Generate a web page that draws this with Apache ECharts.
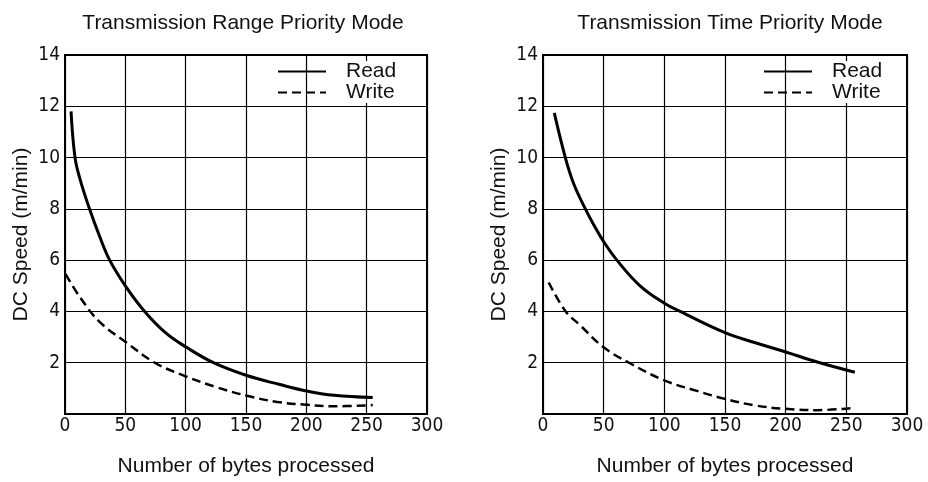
<!DOCTYPE html>
<html>
<head>
<meta charset="utf-8">
<script src="https://cdn.jsdelivr.net/npm/echarts@6/dist/echarts.min.js"></script>
<style>
  html, body { margin: 0; padding: 0; background: #fff; }
  #chart { width: 928px; height: 482px; }
</style>
</head>
<body>
<div id="chart"></div>
<script>
// values: [bytes, speed m/min]
const rangeRead = [[5, 11.8], [8.3, 10.0], [12.5, 9.15], [20.3, 8.0], [28.5, 6.95], [37, 6.0], [50, 5.0],
  [66, 4.0], [84, 3.14], [100, 2.62], [123, 2.0], [150, 1.51], [178, 1.15], [200, 0.9], [223, 0.73], [255, 0.64]];
const rangeWrite = [[0.5, 5.45], [12.5, 4.55], [28.7, 3.59], [50, 2.82], [74.4, 2.0], [100, 1.47],
  [126, 1.04], [151, 0.71], [176, 0.47], [200, 0.36], [223, 0.3], [255, 0.35]];
const timeRead = [[9.3, 11.74], [18.4, 10.0], [25.3, 8.98], [34.9, 8.0], [43.2, 7.26], [50, 6.72], [60.9, 6.0],
  [80, 5.0], [100, 4.32], [113, 4.0], [150, 3.17], [175, 2.78], [200, 2.42], [226, 2.03], [257, 1.63]];
const timeWrite = [[4.7, 5.13], [18.4, 4.02], [30.8, 3.45], [50, 2.6], [72, 1.97], [100, 1.31], [127, 0.9],
  [149, 0.6], [174, 0.34], [200, 0.2], [226, 0.15], [254, 0.23]];

const titles = ['Transmission Range Priority Mode', 'Transmission Time Priority Mode'];
const xName = 'Number of bytes processed';
const yName = 'DC Speed (m/min)';

const chart = echarts.init(document.getElementById('chart'));

const font = 'Liberation Sans, Arial, sans-serif';
const narrow = 'DejaVu Sans Condensed, Liberation Sans Narrow, Liberation Sans, sans-serif';

const grids = [
  {left: 65, top: 55, width: 362, height: 362},
  {left: 543, top: 55, width: 364, height: 363}
];

function xAxis(i) {
  return {
    gridIndex: i, type: 'value', min: 0, max: 300, interval: 50,
    name: xName, nameLocation: 'middle', nameGap: 42,
    nameTextStyle: {color: '#111', fontSize: 21, fontFamily: font},
    axisLine: {show: true, lineStyle: {color: '#000', width: 2}},
    axisTick: {show: false},
    axisLabel: {color: '#111', fontSize: 19, fontFamily: narrow, margin: 3},
    splitLine: {show: true, lineStyle: {color: '#000', width: 1.2}}
  };
}

function yAxis(i) {
  return {
    gridIndex: i, type: 'value', min: 0, max: 14, interval: 2,
    name: yName, nameLocation: 'middle', nameGap: 33,
    nameTextStyle: {color: '#111', fontSize: 21, fontFamily: font},
    axisLine: {show: true, lineStyle: {color: '#000', width: 2}},
    axisTick: {show: false},
    axisLabel: {color: '#111', fontSize: 19, fontFamily: narrow, margin: 5,
      formatter: v => (v === 0 ? '' : v)},
    splitLine: {show: true, lineStyle: {color: '#000', width: 1.2}}
  };
}

function line(name, data, i, dashed) {
  return {
    name: name, type: 'line', xAxisIndex: i, yAxisIndex: i,
    data: data, smooth: 0.4, symbol: 'none',
    lineStyle: {color: '#000', width: dashed ? 2.5 : 3, type: dashed ? [9, 5] : 'solid'},
    itemStyle: {color: '#000'}
  };
}

function legend(left) {
  return {
    orient: 'vertical', left: left, top: 61, padding: 0, itemGap: 0,
    itemWidth: 48, itemHeight: 14,
    itemStyle: {opacity: 0},
    data: ['Read', 'Write'],
    textStyle: {color: '#111', fontSize: 21, fontFamily: font, lineHeight: 21,
      backgroundColor: '#fff', padding: [0, 4, 0, 15]}
  };
}

chart.setOption({
  animation: false,
  backgroundColor: '#fff',
  title: [
    {text: titles[0], left: 238, top: 8, textAlign: 'center',
      textStyle: {color: '#111', fontSize: 21, fontWeight: 'normal', fontFamily: font}},
    {text: titles[1], left: 725, top: 8, textAlign: 'center',
      textStyle: {color: '#111', fontSize: 21, fontWeight: 'normal', fontFamily: font}}
  ],
  legend: [legend(277), legend(763)],
  grid: grids.map(g => Object.assign({show: true, borderColor: '#000', borderWidth: 2}, g)),
  xAxis: [xAxis(0), xAxis(1)],
  yAxis: [yAxis(0), yAxis(1)],
  series: [
    line('Read', rangeRead, 0, false),
    line('Write', rangeWrite, 0, true),
    line('Read', timeRead, 1, false),
    line('Write', timeWrite, 1, true)
  ]
});
</script>
</body>
</html>
